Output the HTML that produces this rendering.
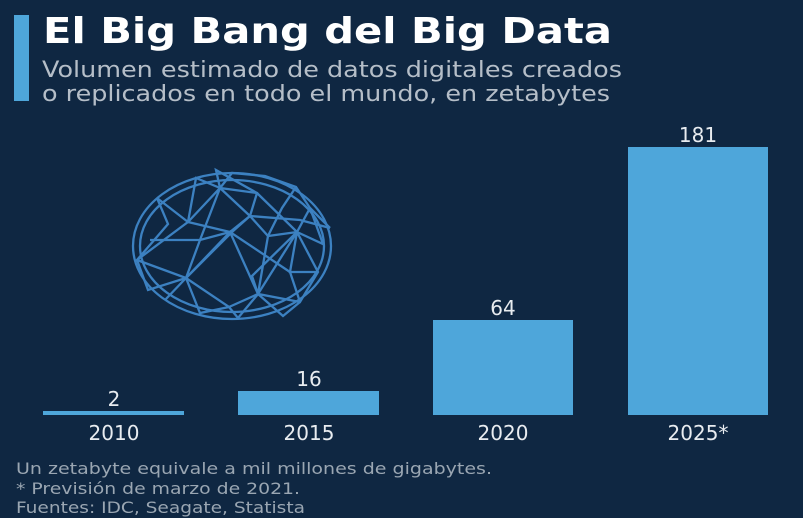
<!DOCTYPE html>
<html><head><meta charset="utf-8"><style>
html,body{margin:0;padding:0;background:#0f2742;}
svg{display:block}
text{font-family:"DejaVu Sans","Liberation Sans",sans-serif;}
</style></head><body>
<svg width="803" height="518" viewBox="0 0 803 518" xmlns="http://www.w3.org/2000/svg">
<rect width="803" height="518" fill="#0f2742"/>
<rect x="14" y="15" width="15" height="86" fill="#4ea6da"/>
<text x="43" y="43" font-size="36" font-weight="bold" fill="#ffffff" textLength="569" lengthAdjust="spacingAndGlyphs">El Big Bang del Big Data</text>
<text x="42" y="77" font-size="22" fill="#b5bec8" textLength="580" lengthAdjust="spacingAndGlyphs">Volumen estimado de datos digitales creados</text>
<text x="42" y="101" font-size="22" fill="#b5bec8" textLength="568" lengthAdjust="spacingAndGlyphs">o replicados en todo el mundo, en zetabytes</text>
<g fill="none" stroke="#3f86c8" stroke-width="2.3" opacity="0.95">
<ellipse cx="232" cy="246" rx="99" ry="73"/>
<ellipse cx="232" cy="246" rx="92" ry="66"/>
<polyline points="157,198 188,222 220,188 257,193 297,232 310,208 296,187 265,176 232,173 220,188"/>
<polyline points="137,260 188,222 230,232 250,216 268,236 297,232 323,244 310,208 330,228"/>
<polyline points="137,260 186,278 230,232 258,294 297,232 318,272 300,302 258,294 229,307 186,278 165,300"/>
<polyline points="186,278 200,313 229,307 238,318 258,294 283,316 300,302"/>
<polyline points="157,198 168,224 137,260 148,290 186,278"/>
<polyline points="188,222 196,178 220,188 200,240 186,278"/>
<polyline points="250,216 220,188 216,170 257,193 250,216 232,232 186,278"/>
<polyline points="296,187 282,208 268,236 258,294 252,276 297,232 290,272 318,272"/>
<polyline points="150,240 200,240 230,232 290,272 300,302"/>
<polyline points="250,216 300,220 330,228"/>
</g>
<g fill="#4ea6da">
<rect x="43" y="411" width="141" height="4"/>
<rect x="238" y="391" width="141" height="24"/>
<rect x="433" y="320" width="140" height="95"/>
<rect x="628" y="147" width="140" height="268"/>
</g>
<g font-size="20" fill="#e8ecf0" text-anchor="middle">
<text x="114" y="406">2</text>
<text x="309" y="386">16</text>
<text x="503" y="315">64</text>
<text x="698" y="142">181</text>
<text x="114" y="440">2010</text>
<text x="309" y="440">2015</text>
<text x="503" y="440">2020</text>
<text x="698" y="440">2025*</text>
</g>
<g font-size="16" fill="#9aa6b2">
<text x="16" y="474" textLength="476" lengthAdjust="spacingAndGlyphs">Un zetabyte equivale a mil millones de gigabytes.</text>
<text x="16" y="494" textLength="284" lengthAdjust="spacingAndGlyphs">* Previsión de marzo de 2021.</text>
<text x="16" y="513" textLength="289" lengthAdjust="spacingAndGlyphs">Fuentes: IDC, Seagate, Statista</text>
</g>
</svg>
</body></html>
